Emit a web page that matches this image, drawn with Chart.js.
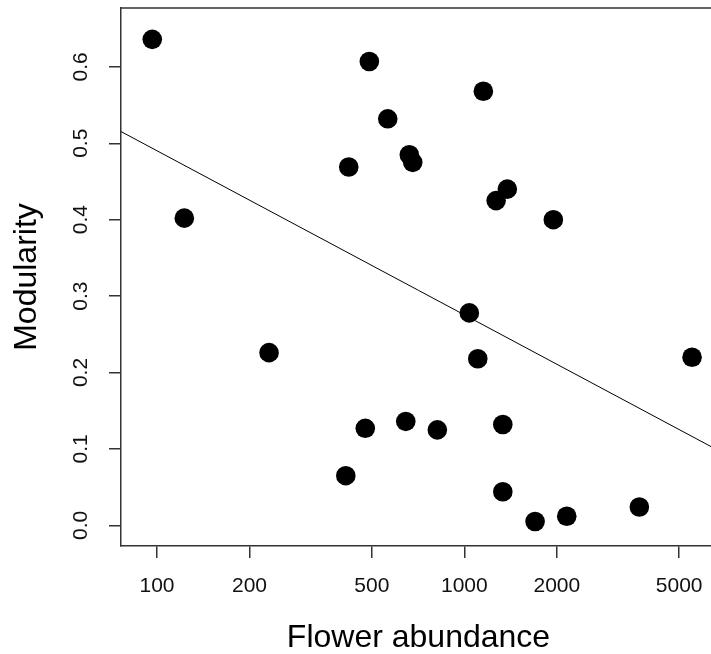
<!DOCTYPE html>
<html>
<head>
<meta charset="utf-8">
<title>Modularity vs flower abundance</title>
<script src="https://cdn.jsdelivr.net/npm/chart.js@4"></script>
<style>
  html, body { margin: 0; padding: 0; overflow: hidden; background: #fff; }
  #wrap { width: 720px; height: 654px; }
</style>
</head>
<body>
<div id="wrap"><canvas id="modChart" width="720" height="654"></canvas></div>
<script>
// One point per network: flower abundance (log axis) and its modularity
const flowerAbundance = [96.5, 122.7, 231.5, 411.4, 420.6, 476.1, 490.8, 563.3, 644.8, 662.2, 679.3, 816.9,
                         1038, 1106, 1153, 1269, 1334, 1334, 1380, 1699, 1948, 2154, 3711, 5508];
const modularity      = [0.636, 0.402, 0.226, 0.065, 0.469, 0.127, 0.607, 0.532, 0.136, 0.485, 0.475, 0.125,
                         0.278, 0.218, 0.568, 0.425, 0.132, 0.044, 0.440, 0.005, 0.400, 0.012, 0.024, 0.220];

const xTicks = [100, 200, 500, 1000, 2000, 5000];
const yTicks = [0, 0.1, 0.2, 0.3, 0.4, 0.5, 0.6];
const xRange = [76.35, 6590];
const yRange = [-0.027, 0.677];

// least squares fit of modularity on log10(abundance), drawn edge to edge
function fitLine(xs, ys) {
    const lx = xs.map(v => Math.log10(v));
    const n = lx.length;
    const mx = lx.reduce((a, b) => a + b, 0) / n;
    const my = ys.reduce((a, b) => a + b, 0) / n;
    let sxy = 0, sxx = 0;
    for (let i = 0; i < n; i++) {
        sxy += (lx[i] - mx) * (ys[i] - my);
        sxx += (lx[i] - mx) * (lx[i] - mx);
    }
    const slope = sxy / sxx;
    return { slope, intercept: my - slope * mx };
}

const fit = fitLine(flowerAbundance, modularity);
const fitPoints = xRange.map(x => ({ x, y: fit.intercept + fit.slope * Math.log10(x) }));

const axisColor = '#333';
const font = 'Liberation Sans, Arial, sans-serif';

// R-style box: top and right edges of the plotting region
const boxPlugin = {
    id: 'box',
    afterDraw(chart) {
        const { ctx, chartArea: a } = chart;
        ctx.save();
        ctx.strokeStyle = axisColor;
        ctx.lineWidth = 1.5;
        ctx.beginPath();
        ctx.moveTo(a.left, a.top);
        ctx.lineTo(a.right, a.top);
        ctx.lineTo(a.right, a.bottom);
        ctx.stroke();
        ctx.restore();
    }
};

new Chart(document.getElementById('modChart').getContext('2d'), {
    data: {
        datasets: [
            {
                type: 'scatter',
                data: flowerAbundance.map((x, i) => ({ x, y: modularity[i] })),
                backgroundColor: '#000',
                borderWidth: 0,
                pointRadius: 9.8,
                pointHoverRadius: 9.8
            },
            {
                type: 'line',
                data: fitPoints,
                borderColor: '#000',
                borderWidth: 1,
                pointRadius: 0,
                fill: false
            }
        ]
    },
    options: {
        responsive: false,
        animation: false,
        devicePixelRatio: 1,
        layout: { autoPadding: false, padding: { top: 8, right: 4, left: 0, bottom: 0 } },
        plugins: {
            legend: { display: false },
            tooltip: { enabled: false }
        },
        scales: {
            x: {
                type: 'logarithmic',
                position: 'bottom',
                min: xRange[0],
                max: xRange[1],
                afterBuildTicks: scale => { scale.ticks = xTicks.map(v => ({ value: v })); },
                afterFit: scale => {
                    scale.height = 108;
                    scale.paddingLeft = 0;
                    scale.paddingRight = 0;
                },
                grid: { drawOnChartArea: false, drawTicks: true, tickLength: 12, color: axisColor, lineWidth: 1.5 },
                border: { display: true, color: axisColor, width: 1.5 },
                ticks: {
                    color: '#111',
                    padding: 18,
                    maxRotation: 0,
                    autoSkip: false,
                    font: { family: font, size: 21, lineHeight: 1 },
                    callback: v => String(v)
                },
                title: {
                    display: true,
                    text: 'Flower abundance',
                    color: '#000',
                    padding: { top: 0, bottom: 0 },
                    font: { family: font, size: 32, lineHeight: 1 }
                }
            },
            y: {
                type: 'linear',
                position: 'left',
                min: yRange[0],
                max: yRange[1],
                afterBuildTicks: scale => { scale.ticks = yTicks.map(v => ({ value: v })); },
                afterFit: scale => {
                    scale.width = 121;
                    scale.paddingTop = 0;
                    scale.paddingBottom = 0;
                },
                grid: { drawOnChartArea: false, drawTicks: true, tickLength: 12, color: axisColor, lineWidth: 1.5 },
                border: { display: true, color: axisColor, width: 1.5 },
                ticks: {
                    color: '#111',
                    padding: 13,
                    minRotation: 90,
                    maxRotation: 90,
                    crossAlign: 'center',
                    font: { family: font, size: 21, lineHeight: 1 },
                    callback: v => v.toFixed(1)
                },
                title: {
                    display: true,
                    text: 'Modularity',
                    color: '#000',
                    padding: { top: 11, bottom: 0 },
                    font: { family: font, size: 32, lineHeight: 1 }
                }
            }
        }
    },
    plugins: [boxPlugin]
});
</script>
</body>
</html>
